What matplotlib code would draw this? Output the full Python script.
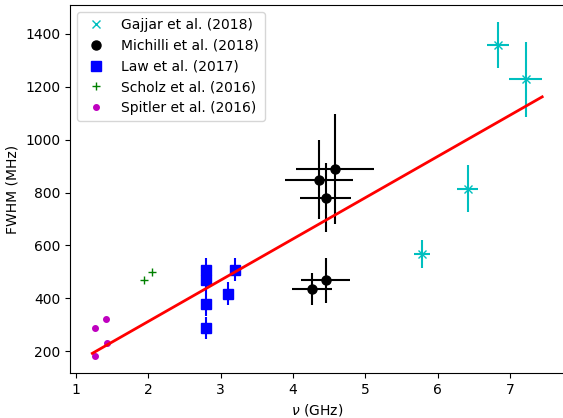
import numpy as np
import matplotlib
matplotlib.use("Agg")
import matplotlib.pyplot as plt

# Gajjar et al. (2018)
gajjar_nu = [5.78, 6.41, 6.83, 7.21]
gajjar_fwhm = [567, 815, 1359, 1228]
gajjar_nu_err = [0.11, 0.145, 0.15, 0.23]
gajjar_fwhm_err = [53, 89, 87, 143]

# Michilli et al. (2018)
michilli_nu = [4.58, 4.36, 4.45, 4.45, 4.26]
michilli_fwhm = [889, 849, 781, 468, 434]
michilli_nu_err = [0.545, 0.47, 0.35, 0.34, 0.28]
michilli_fwhm_err = [208, 148, 132, 85, 60]

# Law et al. (2017)
law_nu = [2.80, 2.80, 2.80, 2.80, 3.10, 3.20]
law_fwhm = [507, 469, 379, 288, 418, 509]
law_fwhm_err = [45, 45, 45, 42, 42, 44]

# Scholz et al. (2016)
scholz_nu = [1.95, 2.05]
scholz_fwhm = [471, 500]

# Spitler et al. (2016)
spitler_nu = [1.265, 1.415, 1.43, 1.27]
spitler_fwhm = [287, 322, 230, 181]

# fit line
fit_nu = [1.23, 7.44]
fit_fwhm = [192, 1162]

fig = plt.figure(figsize=(5.63, 4.18), dpi=100)
ax = fig.add_axes([0.124, 0.1077, 1.003 - 0.124, 0.988 - 0.1077])

ax.plot(gajjar_nu, gajjar_fwhm, 'cx', label='Gajjar et al. (2018)')
ax.errorbar(gajjar_nu, gajjar_fwhm, xerr=gajjar_nu_err, yerr=gajjar_fwhm_err, fmt='none', ecolor='c')
ax.plot(michilli_nu, michilli_fwhm, 'ko', markersize=6.5, label='Michilli et al. (2018)')
ax.errorbar(michilli_nu, michilli_fwhm, xerr=michilli_nu_err, yerr=michilli_fwhm_err, fmt='none', ecolor='k')
ax.plot(law_nu, law_fwhm, 'bs', markersize=6.5, label='Law et al. (2017)')
ax.errorbar(law_nu, law_fwhm, yerr=law_fwhm_err, fmt='none', ecolor='b')
ax.plot(scholz_nu, scholz_fwhm, 'g+', label='Scholz et al. (2016)')
ax.plot(spitler_nu, spitler_fwhm, 'm.', markersize=8, label='Spitler et al. (2016)')
ax.plot(fit_nu, fit_fwhm, 'r-', linewidth=2)

ax.set_xlabel(r'$\nu$ (GHz)')
ax.set_ylabel('FWHM (MHz)')
ax.legend(loc='upper left')

fig.savefig('out.png', dpi=100)
